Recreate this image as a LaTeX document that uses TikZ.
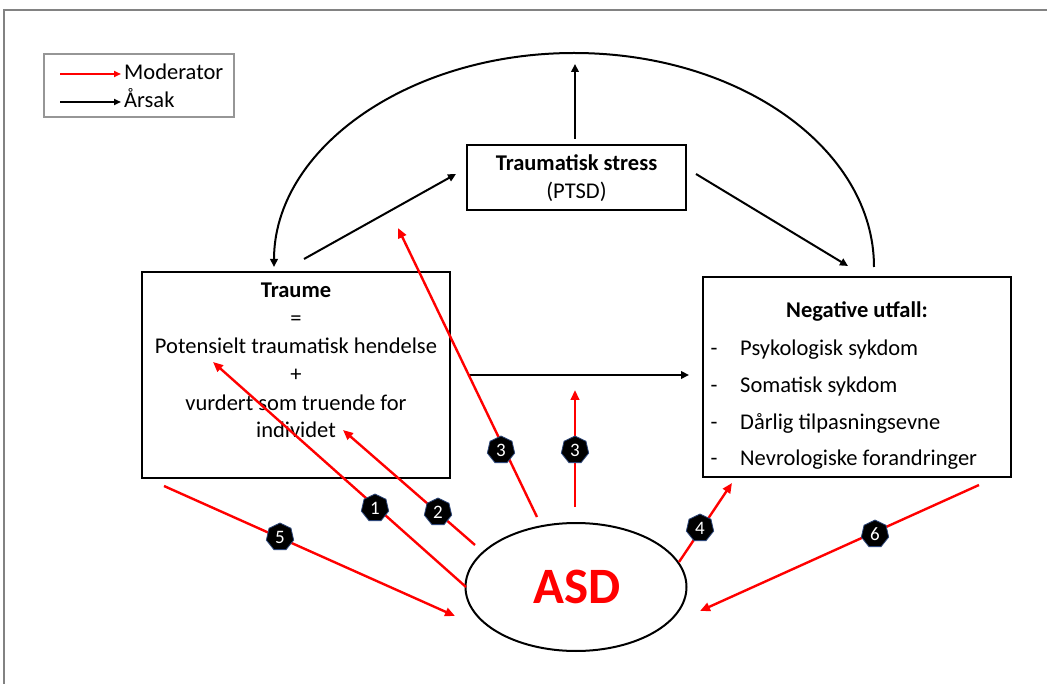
\documentclass[tikz,border=0pt]{standalone}
\usepackage{fontspec}
\setmainfont{Carlito}
\usetikzlibrary{arrows.meta,shapes.geometric}
\definecolor{modred}{RGB}{255,0,0}
\definecolor{badgeedge}{RGB}{45,70,120}
\definecolor{framegray}{RGB}{130,130,130}
\definecolor{leggray}{RGB}{150,150,150}
\begin{document}
\begin{tikzpicture}[x=1pt,y=-1pt,
  box/.style={draw=black, line width=2.2pt, inner sep=0pt},
  txt/.style={font=\fontsize{22.5}{27}\selectfont, anchor=base, inner sep=0pt},
  btxt/.style={txt, font=\fontsize{22.5}{27}\selectfont\bfseries},
  ltxt/.style={txt, anchor=base west},
  blk/.style={draw=black, line width=2pt, -{Triangle[length=8pt,width=7.5pt]}},
  modarrow/.style={draw=modred, line width=2.4pt, -{Triangle[length=10pt,width=8.5pt]}},
  badge/.style={regular polygon, regular polygon sides=7, fill=black, draw=badgeedge,
    line width=0.8pt, minimum size=28pt, inner sep=0pt, text=white,
    font=\fontsize{19}{19}\selectfont}
]
\useasboundingbox (0,0) rectangle (1047,684);
\fill[white] (0,0) rectangle (1047,684);
% outer frame (left and top edges visible)
\draw[framegray, line width=1.5pt] (4,684) -- (4,10) -- (1047,10);

% legend
\node[draw=leggray, line width=1.2pt, minimum width=190pt, minimum height=63pt, inner sep=0pt] (legend) at (139,85.5) {};
\coordinate (lmA) at (60,74);
\coordinate (lmB) at (121,74);
\coordinate (lkA) at (60,102);
\coordinate (lkB) at (121,102);
\draw[modred, line width=1.6pt, -{Triangle[length=7pt,width=6pt]}] (lmA) -- (lmB);
\draw[black, line width=1.6pt, -{Triangle[length=7pt,width=6pt]}] (lkA) -- (lkB);
\node[ltxt] (legmod) at (124,80) {Moderator};
\node[ltxt] (legaar) at (124,108) {Årsak};

% boxes
\node[box, line width=1.8pt, minimum width=219pt, minimum height=65pt] (ptsd) at (576.5,177.5) {};
\node[btxt] (ptsdA) at (576.5,171) {Traumatisk stress};
\node[txt] (ptsdB) at (576.5,199) {(PTSD)};

\node[box, line width=2.6pt, minimum width=308pt, minimum height=206pt] (traume) at (296,375) {};
\node[btxt] (tr1) at (296,298) {Traume};
\node[txt] (tr2) at (296,326) {=};
\node[txt] (tr3) at (296,354) {Potensielt traumatisk hendelse};
\node[txt] (tr4) at (296,382) {+};
\node[txt] (tr5) at (296,410) {vurdert som truende for};
\node[txt] (tr6) at (296,438) {individet};

\node[box, line width=2.6pt, minimum width=308pt, minimum height=200pt] (neg) at (857,377) {};
\node[btxt] (neg0) at (857,318) {Negative utfall:};
\node[txt] (negd1) at (714,356) {-};
\node[ltxt] (neg1) at (740,356) {Psykologisk sykdom};
\node[txt] (negd2) at (714,393) {-};
\node[ltxt] (neg2) at (740,393) {Somatisk sykdom};
\node[txt] (negd3) at (714,429) {-};
\node[ltxt] (neg3) at (740,429) {Dårlig tilpasningsevne};
\node[txt] (negd4) at (714,465) {-};
\node[ltxt] (neg4) at (740,465) {Nevrologiske forandringer};

\node[draw=black, line width=2pt, ellipse, minimum width=221pt, minimum height=128pt, inner sep=0pt] (asd) at (576,587) {};
\node[txt, text=modred, font=\fontsize{51}{51}\selectfont\bfseries] (asdtxt) at (577,603) {ASD};

% black causal arrows
\coordinate (arcR) at (874,267);
\coordinate (upS) at (575,139);
\coordinate (upE) at (575,64);
\coordinate (tpS) at (304,259);
\coordinate (tpE) at (456,174);
\coordinate (pnS) at (696,174);
\coordinate (pnE) at (848,266);
\coordinate (tnS) at (468,375);
\coordinate (tnE) at (689,375);
\draw[blk] (arcR) arc[start angle=0, end angle=180, x radius=300pt, y radius=214pt];
\draw[blk] (upS) -- (upE);
\draw[blk] (tpS) -- (tpE);
\draw[blk] (pnS) -- (pnE);
\draw[blk] (tnS) -- (tnE);

% red moderator arrows
\coordinate (m1S) at (466,587);
\coordinate (m1E) at (213,362);
\coordinate (m2S) at (475,545);
\coordinate (m2E) at (343,430);
\coordinate (m3S) at (537,517);
\coordinate (m3E) at (398,228);
\coordinate (m3bS) at (575,507);
\coordinate (m3bE) at (575,390);
\coordinate (m4S) at (679,562);
\coordinate (m4E) at (732,483);
\coordinate (m5S) at (164,486);
\coordinate (m5E) at (455,616);
\coordinate (m6S) at (979,485);
\coordinate (m6E) at (700,611);
\draw[modarrow] (m1S) -- (m1E);
\draw[modarrow] (m2S) -- (m2E);
\draw[modarrow] (m3S) -- (m3E);
\draw[modarrow] (m3bS) -- (m3bE);
\draw[modarrow] (m4S) -- (m4E);
\draw[modarrow] (m5S) -- (m5E);
\draw[modarrow] (m6S) -- (m6E);

% numbered badges
\node[badge] (b1) at (375,508) {1};
\node[badge] (b2) at (438,512) {2};
\node[badge] (b3a) at (501,450) {3};
\node[badge] (b3b) at (575,450) {3};
\node[badge] (b4) at (700,528) {4};
\node[badge] (b5) at (280,537) {5};
\node[badge] (b6) at (875,534) {6};
\end{tikzpicture}
\end{document}
